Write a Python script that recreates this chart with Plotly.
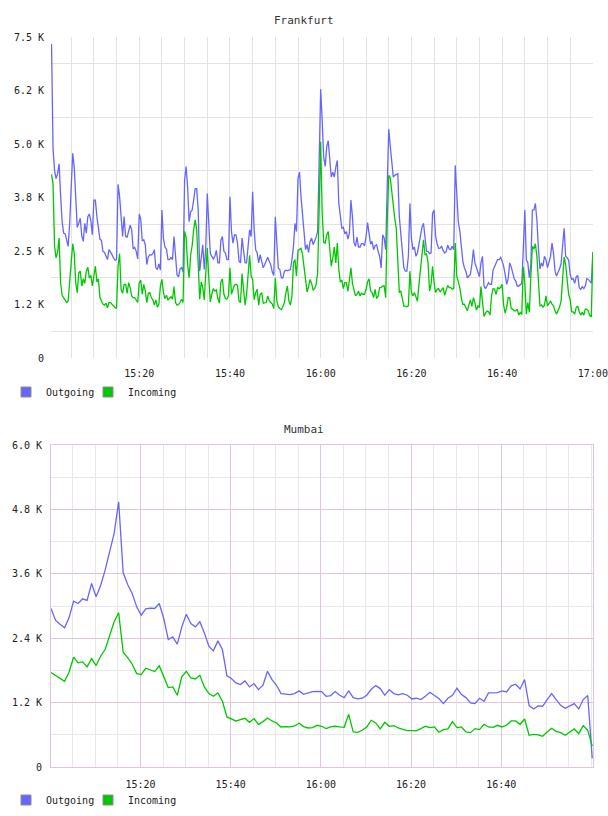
import pandas as pd
import plotly.graph_objects as go

# ---------------- data ----------------
FRA_START = "2024-01-01 15:00:40"
FRA_STEP = "20s"
FRA_OUT = [
7338,4900,4383,4190,4306,4537,3804,3187,2917,2901,2762,2608,3148,3997,4784,4460,3534,3055,3148,3264,
2855,2724,3148,2917,3302,3364,3210,2878,3688,3688,3302,3055,2778,2747,2492,2469,2392,2299,2531,2485,
2415,2338,2284,2299,4059,3781,3302,2839,3302,2839,2824,2994,3102,2994,2546,2585,2492,2315,3364,3241,
2747,2762,2647,2184,2361,2415,2407,2438,2531,2107,2068,2199,2052,3457,2801,2593,2546,2299,2299,2346,
2299,2839,2376,1944,1898,2083,2114,2006,4151,4475,3997,3187,3418,3457,3688,3958,3958,3457,2029,2338,
2647,2068,2569,3843,3071,2438,2376,2315,2376,2515,2222,2222,2747,2839,2492,2454,2299,2299,3765,
2955,2685,2878,2878,2685,2261,2222,2801,2569,2222,2222,2685,2994,2839,3881,2994,2531,2454,2222,2415,
2261,2107,2184,2284,2353,2261,2176,2006,1929,3302,2608,2099,2068,1875,1867,2022,2052,2037,2052,2068,
2299,2608,3148,2955,4190,4344,3765,3341,2855,2531,2647,2469,2724,2801,2647,2724,2824,2955,4846,6280,
5540,4691,4475,4938,5077,4537,4228,4344,4228,4460,4614,3611,3264,3032,3055,2901,2955,2778,2917,3688,
3302,2701,2608,2824,2593,2593,2670,2670,2623,2839,3164,2878,2662,2724,2531,2623,2647,2492,2376,2106,
2878,2801,2531,3997,5347,4961,4537,4228,4267,4290,4306,3302,2917,2376,2107,2029,2029,2376,3611,
2801,2531,2593,2376,2454,2670,2901,3055,3148,2762,2492,2492,2438,2454,3380,3457,2839,2670,2562,2569,
2608,2515,2454,2485,2639,2546,2531,2608,2531,4500,3700,3187,2978,2623,2261,2114,2029,1875,1914,1952,
2184,2531,2222,2130,2029,1898,2222,2376,1682,1620,1682,1759,1721,1721,2052,2145,2207,2299,2299,2346,
2268,2145,1952,1721,1852,2222,2130,1952,1852,1798,1682,1682,1721,1744,2531,3457,2299,2222,1875,2184,
3457,3457,3611,3225,2569,2083,2222,2145,2376,2299,2114,2222,2376,2685,2438,2029,1914,2006,2083,2207,
2608,3032,2376,2346,2284,1952,1836,1852,1744,1898,1929,1644,1605,1667,1620,1682,1852,1836,1798,1750,
2469]
FRA_IN = [
4290,4074,2608,2338,2469,2801,1759,1466,1412,1358,1296,1335,1759,2145,2670,2454,1759,1528,1991,2029,
1682,1852,1744,2029,2122,1867,1929,1682,1875,2145,1775,1852,1412,1312,1258,1235,1281,1173,1296,1296,
1250,1219,1181,1157,2145,2438,1605,1512,1721,1721,1512,1759,1644,1451,1412,1412,1358,1296,1759,1821,
1489,1721,1566,1296,1512,1528,1412,1358,1235,1358,1188,1258,1682,1836,1528,1389,1466,1358,1389,1435,
1373,1667,1296,1235,1250,1296,1373,1296,2955,2824,2184,1875,2415,2623,2994,3225,2994,2029,1373,1775,
1644,1358,1952,2569,1875,1312,1489,1620,1566,1590,1389,1281,1775,1852,1489,1389,1373,1451,2107,
1489,1605,1705,1721,1698,1335,1296,1975,1644,1235,1489,2068,2400,1914,1836,1366,1528,1605,1235,1489,
1528,1281,1281,1296,1451,1335,1296,1258,1157,1875,1335,1196,1157,1134,1204,1296,1528,1682,1335,1235,
1451,2222,2299,1914,2515,2531,2562,2415,2106,1759,1543,1667,1836,1744,1590,1620,1721,1991,3457,5050,
3380,2708,2685,2878,2955,2454,2145,2338,2593,2222,2685,2068,1775,1821,1620,1759,1759,1559,1914,2106,
1744,1605,1451,1489,1566,1451,1512,1489,1489,1605,1775,1852,1566,1528,1412,1605,1389,1451,1644,1644,
1682,1682,1412,3148,4267,4213,3843,3457,3264,3032,2068,1528,1559,1373,1211,1211,1196,1219,2029,
1528,1451,1528,1404,1327,1721,2106,2415,2762,2407,2438,2222,1566,1721,2145,1759,1528,1605,1620,1543,
1605,1644,1466,1590,1698,1644,1644,1605,1620,2685,1914,1790,1644,1412,1250,1258,1157,1103,1235,1358,
1204,1412,1296,1119,1219,1181,1667,1335,972,1049,1096,1080,1003,1451,1620,1605,1489,1644,1620,1644,
1721,1235,1049,1181,1412,1404,1157,1142,1103,1103,1142,1003,1065,1018,2130,1759,1026,1296,1065,1914,
2608,2546,2670,2376,1682,1219,1235,1188,1235,1451,1219,1281,1327,1258,1219,1096,1026,1111,1196,1335,
1759,2361,2184,1875,1489,1358,1080,1080,1026,1181,1219,1080,1003,1065,1003,1142,1142,1103,988,972,
2469]

MUM_START = "2024-01-01 15:00:10"
MUM_STEP = "1min"
MUM_OUT = [
2953,2736,2661,2593,2779,3090,3047,3134,3103,3420,3171,3382,3668,4010,4352,4943,3619,3401,3233,2984,
2829,2947,2960,2953,3047,2767,2375,2425,2288,2611,2848,2674,2611,2705,2499,2251,2164,2350,2189,1697,
1648,1567,1536,1604,1492,1554,1442,1523,1784,1629,1523,1368,1355,1349,1368,1418,1355,1387,1405,1411,
1405,1318,1331,1405,1337,1293,1418,1293,1268,1281,1337,1449,1517,1461,1337,1442,1368,1343,1368,1337,
1268,1281,1256,1318,1393,1331,1275,1181,1281,1337,1467,1349,1293,1194,1181,1281,1225,1380,1387,1387,
1418,1399,1511,1542,1455,1629,1144,1082,1138,1132,1256,1368,1256,1150,1094,1132,1181,1082,1256,1331,
160]
MUM_IN = [
1760,1704,1648,1598,1766,2046,1940,1959,1865,2021,1890,2064,2189,2437,2705,2873,2139,2039,1915,1741,
1722,1840,1803,1778,1884,1679,1480,1492,1337,1679,1784,1660,1641,1710,1492,1368,1318,1380,1225,933,
895,858,883,908,833,902,796,846,914,858,821,746,752,746,765,815,752,727,734,777,
759,715,746,759,746,740,982,653,647,684,746,871,821,709,833,759,771,727,703,678,
678,672,715,759,734,746,647,696,709,846,734,746,653,640,715,696,796,746,740,777,
746,777,858,858,796,895,591,609,597,572,653,721,665,640,591,647,709,622,771,684,
390]

SERIES = ["Outgoing", "Incoming"]
COLORS = ["#6666ff", "#00c800"]

FRA_TICK_TIMES = ["15:20", "15:40", "16:00", "16:20", "16:40", "17:00"]
MUM_TICK_TIMES = ["15:20", "15:40", "16:00", "16:20", "16:40"]
FRA_Y_TICKS = [0, 1250, 2500, 3750, 5000, 6250, 7500]
FRA_Y_LABELS = ["0", "1.2 K", "2.5 K", "3.8 K", "5.0 K", "6.2 K", "7.5 K"]
MUM_Y_TICKS = [0, 1200, 2400, 3600, 4800, 6000]
MUM_Y_LABELS = ["0", "1.2 K", "2.4 K", "3.6 K", "4.8 K", "6.0 K"]
DAY = "2024-01-01 "

# ---------------- figure ----------------
W, H = 608, 816
fra_t = pd.date_range(FRA_START, periods=len(FRA_OUT), freq=FRA_STEP)
mum_t = pd.date_range(MUM_START, periods=len(MUM_OUT), freq=MUM_STEP)

MONO = "DejaVu Sans Mono"
fig = go.Figure()

for name, col, vals in zip(SERIES, COLORS, [FRA_OUT, FRA_IN]):
    fig.add_trace(go.Scatter(x=fra_t, y=vals, mode="lines", name=name,
                             line=dict(color=col, width=1.3), showlegend=False,
                             xaxis="x", yaxis="y"))
for name, col, vals in zip(SERIES, COLORS, [MUM_OUT, MUM_IN]):
    fig.add_trace(go.Scatter(x=mum_t, y=vals, mode="lines", name=name,
                             line=dict(color=col, width=1.3), showlegend=False,
                             xaxis="x2", yaxis="y2"))

# legend swatches: one legend per entry so positions can be matched
LEGEND_IDS = {("x", "Outgoing"): "legend", ("x", "Incoming"): "legend2",
              ("x2", "Outgoing"): "legend3", ("x2", "Incoming"): "legend4"}
for ax in [("x", "y"), ("x2", "y2")]:
    for name, col in zip(SERIES, COLORS):
        fig.add_trace(go.Scatter(x=[None], y=[None], mode="markers", name=name,
                                 marker=dict(symbol="square", size=10, color=col,
                                             line=dict(color="#8c8c8c", width=1)),
                                 legend=LEGEND_IDS[(ax[0], name)],
                                 xaxis=ax[0], yaxis=ax[1]))

px_x0, px_x1 = 51, 593
def ydom(top, bot):
    return [1 - bot / H, 1 - top / H]

GRID = "#e3e3e3"
PURPLE = "#dfc6df"
tickfont = dict(family=MONO, size=10, color="#222")

def leg(xpix, ypix):
    return dict(orientation="h", x=xpix / W, y=1 - ypix / H, xanchor="left",
                yanchor="middle", font=dict(family=MONO, size=10, color="#222"),
                itemwidth=30, bgcolor="rgba(0,0,0,0)", borderwidth=0)

fig.update_layout(
    template="none",
    width=W, height=H, autosize=False,
    margin=dict(l=0, r=0, t=0, b=0, pad=0),
    paper_bgcolor="white", plot_bgcolor="white",
    showlegend=True,
    xaxis=dict(domain=[px_x0 / W, px_x1 / W], anchor="y", type="date", automargin=False,
               range=["2024-01-01 15:00:33", "2024-01-01 17:00:02"],
               tickmode="array", tickvals=[DAY + t for t in FRA_TICK_TIMES],
               ticktext=FRA_TICK_TIMES, showgrid=True, gridcolor=GRID, gridwidth=1,
               minor=dict(dtick=300000, tick0="2024-01-01 15:00:00", showgrid=True,
                          gridcolor=GRID),
               ticks="", ticklabelstandoff=8, tickfont=tickfont,
               showline=False, zeroline=False, fixedrange=True),
    yaxis=dict(domain=ydom(37, 358), anchor="x", range=[0, 7500], automargin=False,
               tickmode="array", tickvals=FRA_Y_TICKS, ticktext=FRA_Y_LABELS,
               showgrid=False, zeroline=False,
               minor=dict(tick0=625, dtick=1250, showgrid=True, gridcolor=GRID),
               ticks="", ticklabelstandoff=6, tickfont=tickfont, fixedrange=True),
    xaxis2=dict(domain=[px_x0 / W, px_x1 / W], anchor="y2", type="date", automargin=False,
                range=["2024-01-01 15:00:10", "2024-01-01 17:00:20"],
                tickmode="array", tickvals=[DAY + t for t in MUM_TICK_TIMES],
                ticktext=MUM_TICK_TIMES, showgrid=True, gridcolor=PURPLE,
                minor=dict(dtick=300000, tick0="2024-01-01 15:00:00", showgrid=True,
                           gridcolor="#e8e8e8"),
                ticks="", ticklabelstandoff=8, tickfont=tickfont,
                showline=True, linecolor=PURPLE, mirror=True, zeroline=False,
                fixedrange=True),
    yaxis2=dict(domain=ydom(445, 767), anchor="x2", range=[0, 6000], automargin=False,
                tickmode="array", tickvals=MUM_Y_TICKS, ticktext=MUM_Y_LABELS,
                showgrid=True, gridcolor=PURPLE, zeroline=False,
                minor=dict(tick0=600, dtick=1200, showgrid=True, gridcolor="#e8e8e8"),
                showline=True, linecolor=PURPLE, mirror=True,
                ticks="", ticklabelstandoff=6, tickfont=tickfont, fixedrange=True),
    legend=leg(6, 392), legend2=leg(88, 392),
    legend3=leg(6, 800), legend4=leg(88, 800),
    annotations=[
        dict(text="Frankfurt", x=0.5, y=1 - 20 / H, xref="paper", yref="paper",
             showarrow=False, font=dict(family=MONO, size=11, color="#333"),
             xanchor="center", yanchor="middle"),
        dict(text="Mumbai", x=0.5, y=1 - 429 / H, xref="paper", yref="paper",
             showarrow=False, font=dict(family=MONO, size=11, color="#333"),
             xanchor="center", yanchor="middle"),
    ],
)

fig.write_html("out.html", config={"responsive": False})
